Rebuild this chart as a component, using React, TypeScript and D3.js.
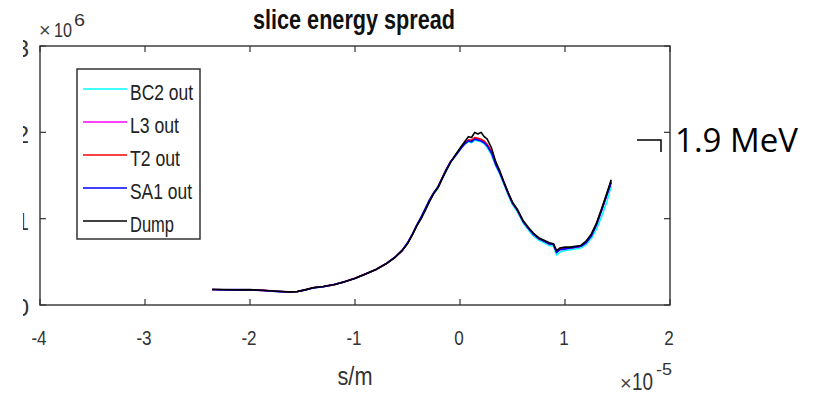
import React from "react";
import * as d3 from "d3";

const sPos = [-2.36,-2.25,-2.12,-2.0,-1.88,-1.75,-1.63,-1.55,-1.48,-1.4,-1.3,-1.2,-1.1,-1.0,-0.9,-0.8,-0.7,-0.62,-0.55,-0.5,-0.45,-0.41,-0.37,-0.33,-0.29,-0.25,-0.21,-0.17,-0.13,-0.09,-0.05,-0.02,0.02,0.05,0.08,0.11,0.14,0.17,0.2,0.23,0.26,0.3,0.34,0.38,0.42,0.46,0.5,0.55,0.6,0.65,0.7,0.75,0.8,0.85,0.89,0.92,0.95,1.0,1.05,1.1,1.15,1.2,1.25,1.3,1.35,1.4,1.44];

const dump = [0.18,0.18,0.175,0.178,0.17,0.16,0.152,0.155,0.175,0.2,0.215,0.235,0.27,0.31,0.36,0.41,0.48,0.55,0.63,0.71,0.82,0.92,1.0,1.1,1.2,1.29,1.36,1.46,1.56,1.65,1.73,1.78,1.85,1.9,1.95,1.94,2.0,1.98,2.0,1.95,1.92,1.82,1.66,1.55,1.42,1.3,1.19,1.1,0.98,0.9,0.83,0.78,0.75,0.72,0.71,0.63,0.66,0.67,0.67,0.68,0.69,0.74,0.82,0.95,1.12,1.3,1.45];
const sa1 = [0.18,0.175,0.178,0.175,0.168,0.158,0.15,0.157,0.172,0.198,0.213,0.237,0.268,0.308,0.358,0.412,0.482,0.553,0.635,0.72,0.83,0.93,1.02,1.12,1.22,1.3,1.37,1.47,1.57,1.66,1.72,1.77,1.83,1.87,1.9,1.89,1.92,1.91,1.9,1.88,1.84,1.76,1.63,1.53,1.41,1.29,1.18,1.09,0.97,0.89,0.82,0.77,0.74,0.71,0.7,0.61,0.64,0.65,0.66,0.67,0.68,0.72,0.8,0.93,1.1,1.28,1.42];
const t2 = [0.18,0.177,0.176,0.176,0.169,0.159,0.151,0.156,0.173,0.199,0.214,0.236,0.269,0.309,0.359,0.411,0.481,0.552,0.633,0.715,0.825,0.925,1.01,1.11,1.21,1.3,1.36,1.47,1.57,1.66,1.72,1.77,1.84,1.88,1.91,1.91,1.94,1.93,1.92,1.9,1.86,1.78,1.64,1.54,1.41,1.29,1.18,1.09,0.97,0.89,0.82,0.77,0.74,0.71,0.7,0.62,0.65,0.66,0.66,0.67,0.68,0.73,0.81,0.94,1.11,1.29,1.43];
const l3 = [0.18,0.177,0.176,0.176,0.169,0.159,0.151,0.156,0.173,0.199,0.214,0.236,0.269,0.309,0.359,0.411,0.481,0.552,0.633,0.715,0.825,0.925,1.01,1.11,1.21,1.3,1.36,1.47,1.57,1.66,1.72,1.77,1.84,1.88,1.91,1.9,1.93,1.92,1.91,1.89,1.85,1.77,1.63,1.53,1.41,1.29,1.18,1.09,0.97,0.89,0.82,0.77,0.74,0.71,0.7,0.61,0.64,0.65,0.66,0.67,0.68,0.72,0.8,0.93,1.1,1.28,1.42];
const bc2 = [0.18,0.176,0.177,0.176,0.168,0.158,0.15,0.156,0.172,0.198,0.213,0.236,0.268,0.308,0.358,0.41,0.48,0.551,0.632,0.714,0.822,0.922,1.01,1.1,1.2,1.29,1.35,1.46,1.56,1.65,1.71,1.76,1.83,1.87,1.89,1.88,1.91,1.9,1.89,1.87,1.82,1.74,1.61,1.51,1.39,1.27,1.16,1.07,0.95,0.87,0.8,0.75,0.72,0.69,0.68,0.58,0.61,0.63,0.64,0.65,0.66,0.7,0.77,0.88,1.03,1.2,1.38];

const seriesNames = ["BC2 out", "L3 out", "T2 out", "SA1 out", "Dump"];
const seriesColors = ["#00ffff", "#ff00ff", "#ff0000", "#0000ff", "#000000"];
const seriesValues = [bc2, l3, t2, sa1, dump];

const xTicks = [-4, -3, -2, -1, 0, 1, 2];
const yTicks = [0, 1, 2, 3];

export default function App() {
  const W = 822, H = 396;
  const left = 40, right = 670, top = 46, bottom = 305;
  const x = d3.scaleLinear().domain([-4, 2]).range([left, right]);
  const y = d3.scaleLinear().domain([0, 3]).range([bottom, top]);
  const line = d3.line<number>().x((_, i) => x(sPos[i])).y((v) => y(v));
  const axisColor = "#333";
  const font = "'Liberation Sans', Arial, Helvetica, sans-serif";
  const tickLen = 6;
  const legendWidths = [63, 49, 50, 62, 44];

  return (
    <svg width={W} height={H} style={{ position: "absolute", left: 0, top: 0, background: "#fff" }}>
      <defs>
        <clipPath id="yclip">
          <rect x={23} y={0} width={20} height={H} />
        </clipPath>
      </defs>
      <rect x={0} y={0} width={W} height={H} fill="#fff" />
      {/* title */}
      <text x={354} y={29} fontFamily={font} fontWeight="bold" fontSize={27} textAnchor="middle" textLength={202} lengthAdjust="spacingAndGlyphs" fill="#111">slice energy spread</text>
      {/* x10^6 */}
      <text x={39} y={37} fontFamily={font} fontSize={20} fill="#444">×</text>
      <text x={54} y={37} fontFamily={font} fontSize={21} fill="#333" textLength={18} lengthAdjust="spacingAndGlyphs">10</text>
      <text x={74} y={26} fontFamily={font} fontSize={16} fill="#333" textLength={11} lengthAdjust="spacingAndGlyphs">6</text>
      {/* y tick labels clipped */}
      <g clipPath="url(#yclip)">
        {yTicks.map((t) => (
          <text key={t} x={29} y={y(t) + 11} fontFamily={font} fontSize={24} textAnchor="end" fill="#333">{t}</text>
        ))}
      </g>
      {/* data lines */}
      {seriesValues.map((vals, k) => (
        <path key={k} d={line(vals) || ""} fill="none" stroke={seriesColors[k]} strokeWidth={1.6} strokeLinejoin="round" />
      ))}
      {/* axes box */}
      <rect x={left} y={top} width={right - left} height={bottom - top} fill="none" stroke={axisColor} strokeWidth={1.4} />
      {xTicks.map((t) => (
        <g key={t}>
          <line x1={x(t)} x2={x(t)} y1={bottom} y2={bottom - tickLen} stroke={axisColor} strokeWidth={1.2} />
          <line x1={x(t)} x2={x(t)} y1={top} y2={top + tickLen} stroke={axisColor} strokeWidth={1.2} />
          <text x={x(t) - 1} y={345} fontFamily={font} fontSize={19} textAnchor="middle" fill="#333" transform={`translate(${x(t) - 1},345) scale(0.9,1.05) translate(${-(x(t) - 1)},-345)`}>{t}</text>
        </g>
      ))}
      {yTicks.map((t) => (
        <g key={t}>
          <line x1={left} x2={left + tickLen} y1={y(t)} y2={y(t)} stroke={axisColor} strokeWidth={1.2} />
          <line x1={right} x2={right - tickLen} y1={y(t)} y2={y(t)} stroke={axisColor} strokeWidth={1.2} />
        </g>
      ))}
      {/* x label */}
      <text x={355} y={385} fontFamily={font} fontSize={26} textAnchor="middle" textLength={35} lengthAdjust="spacingAndGlyphs" fill="#333">s/m</text>
      <text x={620} y={390} fontFamily={font} fontSize={20} fill="#444">×</text>
      <text x={632} y={390} fontFamily={font} fontSize={23} fill="#333" textLength={21} lengthAdjust="spacingAndGlyphs">10</text>
      <text x={656} y={375} fontFamily={font} fontSize={16} fill="#333" textLength={16} lengthAdjust="spacingAndGlyphs">-5</text>
      {/* legend */}
      <rect x={77} y={69} width={123} height={170} fill="#fff" stroke={axisColor} strokeWidth={1.5} />
      {seriesNames.map((n, i) => {
        const ly = 89 + i * 33;
        return (
          <g key={n}>
            <line x1={83} x2={127} y1={ly} y2={ly} stroke={seriesColors[i]} strokeWidth={1.6} />
            <text x={130} y={ly + 11} fontFamily={font} fontSize={22} fill="#222" textLength={legendWidths[i]} lengthAdjust="spacingAndGlyphs">{n}</text>
          </g>
        );
      })}
      {/* annotation */}
      <path d="M637,140 L661,140 L661,152" fill="none" stroke="#000" strokeWidth={1.5} />
      <text x={675} y={152} fontFamily="'Open Sans', 'Noto Sans', sans-serif" fontSize={32} fill="#000" textLength={123} lengthAdjust="spacingAndGlyphs">1.9 MeV</text>
    </svg>
  );
}
